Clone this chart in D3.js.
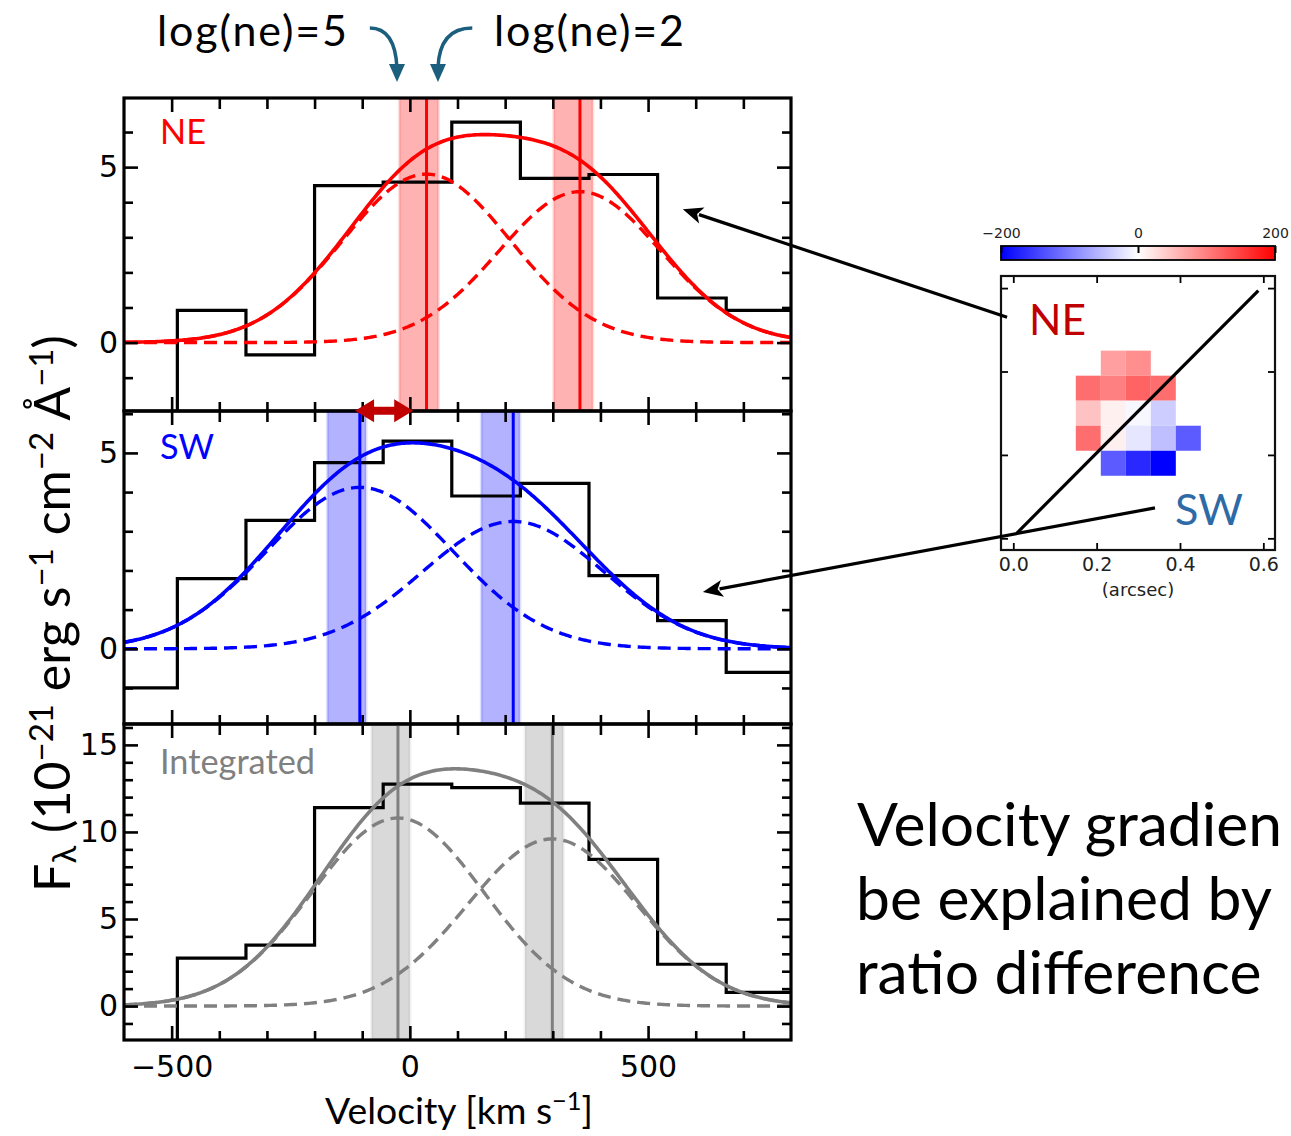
<!DOCTYPE html>
<html><head><meta charset="utf-8">
<script src="https://cdn.jsdelivr.net/npm/d3@7"></script>
<style>body{margin:0;background:#fff;} svg{display:block}</style>
</head><body>
<svg id="c" width="1291" height="1136"></svg>
<script>
// ---------------- DATA ----------------
const binEdges = [-632, -488, -344, -200, -56, 88, 232, 376, 520, 664, 808];
const fluxNE  = [-2.5, 0.92, -0.35, 4.47, 4.57, 6.28, 4.68, 4.79, 1.27, 0.92];
const fluxSW  = [-1.0, 1.79, 3.28, 4.75, 5.30, 3.90, 4.22, 1.87, 0.72, -0.60];
const fluxInt = [-3.0, 2.75, 3.50, 11.40, 12.75, 12.55, 11.65, 8.43, 2.40, 0.78];
// Gaussian components: [amplitude, centre (km/s), sigma (km/s)]
const compNE  = [[4.8, 35, 176], [4.3, 357, 170]];
const compSW  = [[4.12, -105, 195], [3.25, 217, 190]];
const compInt = [[10.8, -25, 180], [9.6, 299, 178]];
// uncertainty bands around each centre [vmin, vmax]
const bandNE  = [[-22, 60], [302, 384]];
const bandSW  = [[-173, -92], [150, 231]];
const bandInt = [[-80, 0], [242, 322]];
const xMajorTicks = [-500, 0, 500];
const yTicksNE = [0, 5];
const yTicksSW = [0, 5];
const yTicksInt = [0, 5, 10, 15];
// velocity map (km/s), rows top->bottom, cols left->right
const mapColStart = [0.15, 0.21, 0.27, 0.33, 0.39];
const mapRowTop   = [0.45, 0.39, 0.33, 0.27, 0.21];
const mapValues = [
  [null, 75, 89, null, null],
  [114, 100, 122, 114, null],
  [48, 12, -6, -39, null],
  [114, 12, -20, -50, -129],
  [null, -129, -169, -200, null]
];
const mapPixel = 0.06;
const cbarTicks = [-200, 0, 200];
const insetTicks = [0.0, 0.2, 0.4, 0.6];

// ---------------- DRAW ----------------
const svg = d3.select('#c');
const defs = svg.append('defs');
const x = d3.scaleLinear().domain([-600, 800]).range([124, 791]);

const panels = [
  {flux: fluxNE, comps: compNE, bands: bandNE, yDom: [-1.95, 6.97], yRange: [411, 98], yTicks: yTicksNE,
   color: '#ff0000', band: '#ff0000', label: 'NE', ly: 144},
  {flux: fluxSW, comps: compSW, bands: bandSW, yDom: [-1.92, 6.07], yRange: [724, 411], yTicks: yTicksSW,
   color: '#0000ff', band: '#0000ff', label: 'SW', ly: 459},
  {flux: fluxInt, comps: compInt, bands: bandInt, yDom: [-1.95, 16.2], yRange: [1040, 724], yTicks: yTicksInt,
   color: '#808080', band: '#808080', label: 'Integrated', ly: 774}
];

const gauss = (v, c) => c[0] * Math.exp(-((v - c[1]) ** 2) / (2 * c[2] * c[2]));
const vGrid = d3.range(-600, 801, 4);

function fitFont(sel, w) {
  sel.attr('font-size', 100);
  const l = sel.node().getComputedTextLength();
  sel.attr('font-size', 100 * w / l);
  return 100 * w / l;
}
function fitSpacing(sel, fs, w) {
  sel.attr('font-size', fs);
  const l = sel.node().getComputedTextLength();
  const n = sel.text().length;
  sel.attr('letter-spacing', (w - l) / (n - 1));
}

let labelFont = null;
panels.forEach((p, i) => {
  const y = d3.scaleLinear().domain(p.yDom).range(p.yRange);
  const top = p.yRange[1], bot = p.yRange[0];
  const cid = 'clip' + i;
  defs.append('clipPath').attr('id', cid).append('rect')
    .attr('x', x.range()[0]).attr('y', top).attr('width', x.range()[1] - x.range()[0]).attr('height', bot - top);
  const g = svg.append('g').attr('clip-path', `url(#${cid})`);

  // bands
  g.selectAll('rect.band').data(p.bands).join('rect')
    .attr('x', d => x(d[0])).attr('width', d => x(d[1]) - x(d[0]))
    .attr('y', top).attr('height', bot - top)
    .attr('fill', p.band).attr('fill-opacity', 0.3)
    .attr('stroke', p.band).attr('stroke-opacity', 0.12).attr('stroke-width', 3);

  // histogram
  const pts = p.flux.map((f, k) => [binEdges[k], f]);
  pts.push([binEdges[binEdges.length - 1], p.flux[p.flux.length - 1]]);
  g.append('path').datum(pts)
    .attr('d', d3.line().x(d => x(d[0])).y(d => y(d[1])).curve(d3.curveStepAfter))
    .attr('fill', 'none').attr('stroke', '#000').attr('stroke-width', 3.2);

  // components
  const line = d3.line().x(d => x(d[0])).y(d => y(d[1]));
  p.comps.forEach(c => {
    g.append('path').datum(vGrid.map(v => [v, gauss(v, c)]))
      .attr('d', line).attr('fill', 'none').attr('stroke', p.color)
      .attr('stroke-width', 3.4).attr('stroke-dasharray', '13,7');
  });
  g.append('path').datum(vGrid.map(v => [v, p.comps.reduce((s, c) => s + gauss(v, c), 0)]))
    .attr('d', line).attr('fill', 'none').attr('stroke', p.color).attr('stroke-width', 3.6);

  // centre lines
  g.selectAll('line.ctr').data(p.comps).join('line')
    .attr('x1', d => x(d[1])).attr('x2', d => x(d[1])).attr('y1', top).attr('y2', bot)
    .attr('stroke', p.color).attr('stroke-width', 3);

  // ticks
  const xMinor = d3.range(-500, 701, 100).filter(v => !xMajorTicks.includes(v));
  const yInts = d3.range(Math.ceil(p.yDom[0]), Math.floor(p.yDom[1]) + 1);
  const yMinor = yInts.filter(v => v % 5 !== 0);
  const yMajor = yInts.filter(v => v % 5 === 0);
  const ax = svg.append('g');
  const addAxis = (axis, tr) => {
    const a = ax.append('g').attr('transform', tr).call(axis);
    a.select('.domain').remove();
    a.selectAll('line').attr('stroke-width', 2.6);
    return a;
  };
  addAxis(d3.axisBottom(x).tickValues(xMinor).tickSize(-9).tickFormat(''), `translate(0,${bot})`);
  addAxis(d3.axisTop(x).tickValues(xMinor).tickSize(-11).tickFormat(''), `translate(0,${top})`);
  addAxis(d3.axisTop(x).tickValues(xMajorTicks).tickSize(-14).tickFormat(''), `translate(0,${top})`);
  const xb = addAxis(d3.axisBottom(x).tickValues(xMajorTicks).tickSize(-14).tickPadding(15.5)
      .tickFormat(i === 2 ? (d => d3.format('')(d).replace('-', '\u2212')) : ''), `translate(0,${bot})`);
  xb.selectAll('text').attr('font-family', 'DejaVu Sans').attr('font-size', 30).attr('fill', '#000');
  addAxis(d3.axisLeft(y).tickValues(yMinor).tickSize(-9).tickFormat(''), `translate(${x.range()[0]},0)`);
  addAxis(d3.axisRight(y).tickValues(yMinor).tickSize(-9).tickFormat(''), `translate(${x.range()[1]},0)`);
  addAxis(d3.axisRight(y).tickValues(yMajor).tickSize(-14).tickFormat(''), `translate(${x.range()[1]},0)`);
  const yl = addAxis(d3.axisLeft(y).tickValues(p.yTicks).tickSize(-14).tickPadding(6).tickFormat(d3.format('')),
      `translate(${x.range()[0]},0)`);
  yl.selectAll('text').attr('font-family', 'DejaVu Sans').attr('font-size', 30).attr('fill', '#000');

  // frame
  svg.append('rect').attr('x', x.range()[0]).attr('y', top).attr('width', x.range()[1] - x.range()[0])
    .attr('height', bot - top).attr('fill', 'none').attr('stroke', '#000').attr('stroke-width', 3.2);

  // label
  const t = svg.append('text').attr('x', 160).attr('y', p.ly).attr('fill', p.color)
    .attr('font-family', 'Lato').text(p.label);
  if (i === 2) { labelFont = fitFont(t, 155); }
  p.textSel = t;
});
panels[0].textSel.attr('font-size', labelFont);
panels[1].textSel.attr('font-size', labelFont);

// axis titles
const xt = svg.append('text').attr('x', 459).attr('y', 1124).attr('text-anchor', 'middle')
  .attr('font-family', 'Lato').attr('fill', '#000');
xt.append('tspan').text('Velocity [km s');
xt.append('tspan').attr('dy', -14).attr('font-size', '68%').text('\u22121');
xt.append('tspan').attr('dy', 14).text(']');
fitFont(xt, 268);

const yt = svg.append('text').attr('transform', 'translate(70,613.5) rotate(-90)').attr('text-anchor', 'middle')
  .attr('font-family', 'Lato').attr('fill', '#000');
yt.append('tspan').text('F');
yt.append('tspan').attr('dy', 6).attr('font-size', '66%').text('\u03bb');
yt.append('tspan').attr('dy', -6).text(' (10');
yt.append('tspan').attr('dy', -17).attr('font-size', '66%').text('\u221221');
yt.append('tspan').attr('dy', 17).text(' erg s');
yt.append('tspan').attr('dy', -17).attr('font-size', '66%').text('\u22121');
yt.append('tspan').attr('dy', 17).text(' cm');
yt.append('tspan').attr('dy', -17).attr('font-size', '66%').text('\u22122');
yt.append('tspan').attr('dy', 17).text(' \u00c5');
yt.append('tspan').attr('dy', -17).attr('font-size', '66%').text('\u22121');
yt.append('tspan').attr('dy', 17).text(')');
fitFont(yt, 557);

// double-headed red arrow between NE and SW
(function () {
  const x0 = x(-115), x1 = x(7), yc = 410.7, hl = 19, hw = 11.5, sw = 4;
  const d = `M${x0},${yc} L${x0 + hl},${yc - hw} L${x0 + hl},${yc - sw} L${x1 - hl},${yc - sw} L${x1 - hl},${yc - hw} L${x1},${yc} L${x1 - hl},${yc + hw} L${x1 - hl},${yc + sw} L${x0 + hl},${yc + sw} L${x0 + hl},${yc + hw} Z`;
  svg.append('path').attr('d', d).attr('fill', '#c00000');
})();

// ---------------- INSET MAP ----------------
const ix = d3.scaleLinear().domain([-0.0295, 0.628]).range([1001, 1275]);
const iy = d3.scaleLinear().domain([-0.028, 0.629]).range([550, 276]);
const cmap = d3.scaleLinear().domain([-200, 0, 200]).range(['#0000ff', '#ffffff', '#ff0000']);
const cells = [];
mapValues.forEach((row, r) => row.forEach((v, c) => { if (v !== null) cells.push({r, c, v}); }));
svg.append('g').selectAll('rect').data(cells).join('rect')
  .attr('x', d => ix(mapColStart[d.c])).attr('y', d => iy(mapRowTop[d.r]))
  .attr('width', d => ix(mapColStart[d.c] + mapPixel) - ix(mapColStart[d.c]))
  .attr('height', d => iy(mapRowTop[d.r] - mapPixel) - iy(mapRowTop[d.r]))
  .attr('fill', d => cmap(d.v));

// inset diagonal
svg.append('line').attr('x1', ix(0.008)).attr('y1', iy(0.012)).attr('x2', ix(0.588)).attr('y2', iy(0.594))
  .attr('stroke', '#000').attr('stroke-width', 3.2);

// inset axes ticks
const iax = svg.append('g');
const addI = (axis, tr) => { const a = iax.append('g').attr('transform', tr).call(axis); a.select('.domain').remove(); a.selectAll('line').attr('stroke-width', 1.8); return a; };
const ib = addI(d3.axisBottom(ix).tickValues(insetTicks).tickSize(-7).tickPadding(8).tickFormat(d3.format('.1f')), 'translate(0,550)');
ib.selectAll('text').attr('font-family', 'DejaVu Sans').attr('font-size', 19).attr('fill', '#222');
addI(d3.axisTop(ix).tickValues(insetTicks).tickSize(-7).tickFormat(''), 'translate(0,276)');
addI(d3.axisLeft(iy).tickValues(insetTicks).tickSize(-7).tickFormat(''), 'translate(1001,0)');
addI(d3.axisRight(iy).tickValues(insetTicks).tickSize(-7).tickFormat(''), 'translate(1275,0)');
svg.append('rect').attr('x', 1001).attr('y', 276).attr('width', 274).attr('height', 274)
  .attr('fill', 'none').attr('stroke', '#111').attr('stroke-width', 2.2);
svg.append('text').attr('x', 1138).attr('y', 596).attr('text-anchor', 'middle')
  .attr('font-family', 'DejaVu Sans').attr('font-size', 18).attr('fill', '#222').text('(arcsec)');

// inset labels
const neT = svg.append('text').attr('x', 1029).attr('y', 335).attr('fill', '#c00000').attr('font-family', 'Lato').text('NE');
fitFont(neT, 57);
const swT = svg.append('text').attr('x', 1175).attr('y', 525).attr('fill', '#2e6aa6').attr('font-family', 'Lato').text('SW');
fitFont(swT, 68);

// colorbar
const cx = d3.scaleLinear().domain([-200, 200]).range([1001, 1275]);
const grad = defs.append('linearGradient').attr('id', 'cbar');
grad.selectAll('stop').data(cbarTicks).join('stop')
  .attr('offset', d => (cx(d) - 1001) / 274).attr('stop-color', d => cmap(d));
svg.append('rect').attr('x', 1001).attr('y', 246).attr('width', 274).attr('height', 14)
  .attr('fill', 'url(#cbar)').attr('stroke', '#000').attr('stroke-width', 1.8);
const cb = svg.append('g').attr('transform', 'translate(0,246)')
  .call(d3.axisTop(cx).tickValues(cbarTicks).tickSize(-7).tickPadding(8)
    .tickFormat(d => String(d).replace('-', '\u2212')));
cb.select('.domain').remove();
cb.selectAll('line').attr('stroke-width', 2);
cb.selectAll('text').attr('font-family', 'DejaVu Sans').attr('font-size', 14).attr('fill', '#222');

// ---------------- POINTER ARROWS ----------------
function arrow(x0, y0, x1, y1, color, w, hl, hw) {
  const ang = Math.atan2(y1 - y0, x1 - x0);
  const bx = x1 - hl * Math.cos(ang), by = y1 - hl * Math.sin(ang);
  svg.append('line').attr('x1', x0).attr('y1', y0).attr('x2', bx + 3 * Math.cos(ang)).attr('y2', by + 3 * Math.sin(ang))
    .attr('stroke', color).attr('stroke-width', w);
  const px = -Math.sin(ang) * hw, py = Math.cos(ang) * hw;
  svg.append('path').attr('d', `M${x1},${y1} L${bx + px},${by + py} L${bx + hl * 0.25 * Math.cos(ang)},${by + hl * 0.25 * Math.sin(ang)} L${bx - px},${by - py} Z`)
    .attr('fill', color);
}
const yNE = d3.scaleLinear().domain(panels[0].yDom).range(panels[0].yRange);
const ySW = d3.scaleLinear().domain(panels[1].yDom).range(panels[1].yRange);
arrow(ix(-0.015), iy(0.53), x(573), yNE(3.8), '#000', 3.2, 20, 8.5);
arrow(ix(0.34), iy(0.073), x(615), ySW(1.45), '#000', 3.2, 20, 8.5);

// ---------------- TOP ANNOTATIONS ----------------
const l5 = svg.append('text').attr('x', 157).attr('y', 46).attr('font-family', 'Lato').attr('fill', '#000').text('log(ne)=5');
fitSpacing(l5, 43, 190);
const l2 = svg.append('text').attr('x', 494).attr('y', 46).attr('font-family', 'Lato').attr('fill', '#000').text('log(ne)=2');
fitSpacing(l2, 43, 190);
function curvedArrow(sx, sy, cx1, cy1, ex, ey) {
  const teal = '#1b5e7e';
  svg.append('path').attr('d', `M${sx},${sy} Q${cx1},${cy1} ${ex},${ey - 14}`)
    .attr('fill', 'none').attr('stroke', teal).attr('stroke-width', 3.5);
  svg.append('path').attr('d', `M${ex},${ey} L${ex - 8},${ey - 18} L${ex + 8},${ey - 18} Z`).attr('fill', teal);
}
curvedArrow(x(-84), 28, x(-31), 28, x(-27), 82);
curvedArrow(x(131), 28, x(62), 28, x(59), 82);

// ---------------- SLIDE TEXT ----------------
const lines = ['Velocity gradien', 'be explained by', 'ratio difference'];
const tl = svg.append('g');
const t2 = tl.append('text').attr('x', 856).attr('y', 920).attr('font-family', 'Lato').attr('fill', '#000').text(lines[1]);
const fs = fitFont(t2, 416);
tl.append('text').attr('x', 857).attr('y', 846).attr('font-family', 'Lato').attr('font-size', fs).attr('fill', '#000').text(lines[0]);
tl.append('text').attr('x', 856).attr('y', 994).attr('font-family', 'Lato').attr('font-size', fs).attr('fill', '#000').text(lines[2]);
</script>
</body></html>
